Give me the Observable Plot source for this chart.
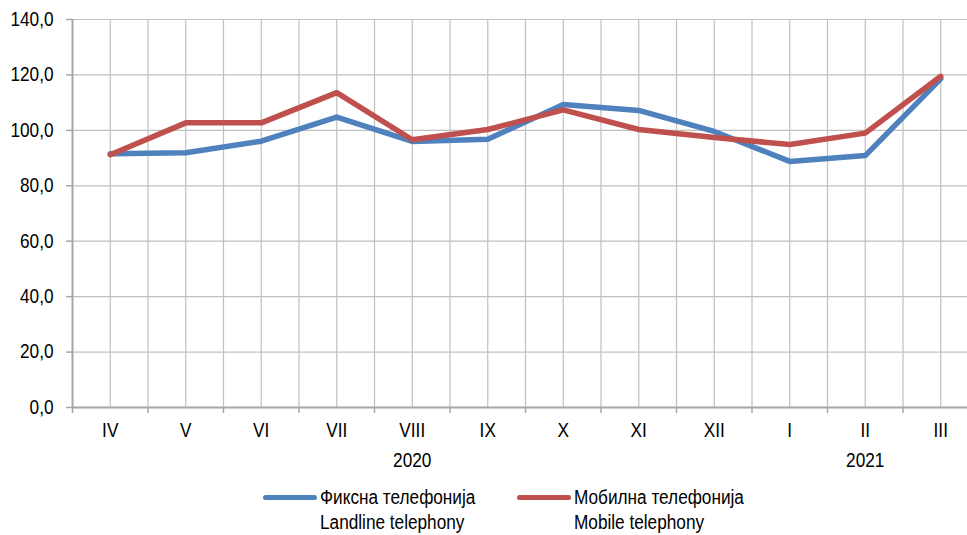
<!DOCTYPE html>
<html>
<head>
<meta charset="utf-8">
<script src="https://cdn.jsdelivr.net/npm/d3@7"></script>
<script src="https://cdn.jsdelivr.net/npm/@observablehq/plot@0.6"></script>
<style>
  body { margin: 0; background: #fff; font-family: "Liberation Sans", Arial, sans-serif; }
  #wrap { position: relative; width: 967px; height: 535px; overflow: hidden; }
  #legend { position: absolute; left: 0; top: 478px; width: 967px; height: 57px; font-size: 20px; color: #000; }
  .item { position: absolute; top: 7px; line-height: 25px; transform: scaleX(0.86); transform-origin: left top; white-space: nowrap; }
  .swatch { position: absolute; top: 17px; height: 5px; border-radius: 3px; }
</style>
</head>
<body>
<div id="wrap">
  <div id="chart"></div>
  <div id="legend"></div>
</div>
<script>
const months = ["IV", "V", "VI", "VII", "VIII", "IX", "X", "XI", "XII", "I", "II", "III"];
const landline = [91.6, 91.9, 96.1, 104.8, 96.0, 96.8, 109.3, 107.2, 99.6, 88.8, 90.9, 118.6];
const mobile = [91.2, 102.7, 102.7, 113.6, 96.6, 100.3, 107.4, 100.3, 97.4, 94.9, 99.0, 119.5];
const yTicks = [0, 20, 40, 60, 80, 100, 120, 140];
const years = [{label: "2020", at: 4}, {label: "2021", at: 10}];
const seriesNames = [
  {sr: "Фиксна телефонија", en: "Landline telephony", color: "#4F81BD"},
  {sr: "Мобилна телефонија", en: "Mobile telephony", color: "#C0504D"}
];

const idx = months.map((m, i) => i);
const rows = [
  ...idx.map(i => ({i, v: landline[i], s: seriesNames[0].en})),
  ...idx.map(i => ({i, v: mobile[i], s: seriesNames[1].en}))
];
const boundaries = d3.range(-0.5, months.length, 1);
const halfGrid = d3.range(0, months.length, 0.5);
const fmt = d => d.toFixed(1).replace(".", ",");
const FONT = "Liberation Sans, Arial, sans-serif";
const NARROW = 0.86;

const chart = Plot.plot({
  width: 967,
  height: 478,
  marginLeft: 72,
  marginTop: 19,
  marginBottom: 71,
  marginRight: 0,
  style: {fontFamily: FONT, fontSize: "20px", color: "#000", overflow: "hidden"},
  x: {type: "linear", domain: [-0.5, months.length - 0.5], range: [72, 72 + 75.5 * months.length]},
  y: {domain: [0, 140]},
  marks: [
    Plot.ruleY(yTicks.filter(d => d > 0), {stroke: "#c0c0c0", strokeWidth: 1.2, strokeOpacity: 1}),
    Plot.ruleX(halfGrid, {stroke: "#c0c0c0", strokeWidth: 1.2, strokeOpacity: 1}),
    Plot.ruleX([-0.5], {stroke: "#a6a6a6", strokeWidth: 2}),
    Plot.ruleY([0], {stroke: "#a6a6a6", strokeWidth: 2}),
    Plot.axisY({ticks: yTicks, tickSize: 6, tickPadding: 13, tickFormat: fmt, stroke: "#a6a6a6", strokeWidth: 1.5, fill: "#000", label: null, fontSize: 20}),
    Plot.axisX({ticks: boundaries, tickSize: 6, tickFormat: () => "", stroke: "#a6a6a6", strokeWidth: 1.5, label: null}),
    Plot.axisX({ticks: idx, tickSize: 0, tickPadding: 15, tickFormat: i => months[i], fill: "#000", label: null, fontSize: 20}),
    Plot.text(years, {x: d => d.at, y: () => 0, text: d => d.label, lineAnchor: "top", dy: 45, fill: "#000", fontSize: 20}),
    Plot.line(rows, {x: "i", y: "v", z: "s", stroke: d => d.s === seriesNames[0].en ? seriesNames[0].color : seriesNames[1].color, strokeWidth: 5.5, strokeLinejoin: "round", strokeLinecap: "round"})
  ]
});
document.getElementById("chart").appendChild(chart);

// emulate a narrow (Arial Narrow-like) face by compressing glyphs horizontally
chart.querySelectorAll("text").forEach(t => {
  const len = t.getComputedTextLength();
  if (len > 0) {
    t.setAttribute("textLength", (len * NARROW).toFixed(2));
    t.setAttribute("lengthAdjust", "spacingAndGlyphs");
  }
});

const legend = document.getElementById("legend");
const pos = [{sw: 263, tx: 320}, {sw: 517, tx: 574}];
seriesNames.forEach((s, k) => {
  const sw = document.createElement("div");
  sw.className = "swatch";
  sw.style.left = pos[k].sw + "px";
  sw.style.width = "54px";
  sw.style.background = s.color;
  legend.appendChild(sw);
  const t = document.createElement("div");
  t.className = "item";
  t.style.left = pos[k].tx + "px";
  t.innerHTML = s.sr + "<br>" + s.en;
  legend.appendChild(t);
});
</script>
</body>
</html>
